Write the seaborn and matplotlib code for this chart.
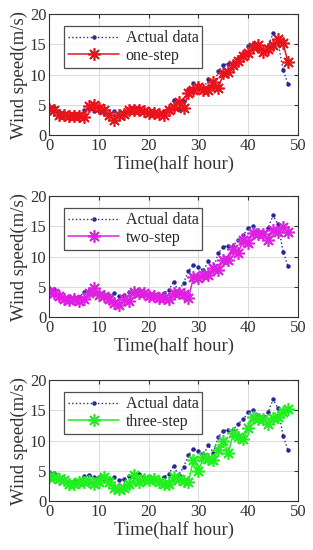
import numpy as np
import pandas as pd
import seaborn as sns
import matplotlib
matplotlib.use("Agg")
import matplotlib.pyplot as plt

# ---- data ----
time_steps = list(range(49))
actual = [4.8, 4.7, 3.8, 3.3, 3.2, 3.3, 3.2, 4.1, 4.3, 3.9,
          4.0, 3.7, 3.4, 3.9, 3.4, 3.6, 4.1, 4.0, 4.4, 4.0,
          3.6, 3.7, 3.5, 4.0, 4.4, 5.8, 4.3, 5.6, 7.6, 8.6,
          8.2, 7.7, 9.2, 8.0, 10.6, 11.6, 11.8, 11.8, 12.8, 13.5,
          14.7, 15.0, 14.2, 13.8, 14.7, 16.8, 15.3, 10.8, 8.4]
one_step = [4.3, 4.1, 3.3, 3.3, 3.2, 3.2, 3.2, 3.0, 4.8, 5.0,
            4.4, 4.1, 3.3, 2.5, 3.3, 3.4, 4.1, 4.2, 4.1, 4.0,
            3.7, 3.6, 3.5, 3.3, 4.1, 4.7, 5.5, 4.4, 6.9, 7.4,
            7.9, 7.5, 7.5, 8.8, 7.7, 10.2, 10.4, 11.6, 12.3, 13.1,
            13.5, 14.6, 14.9, 13.8, 14.2, 14.9, 15.8, 15.2, 12.0]
two_step = [4.1, 4.0, 3.4, 3.0, 2.8, 2.9, 2.7, 2.9, 3.9, 4.8,
            3.7, 3.5, 3.0, 2.3, 2.0, 2.9, 2.6, 4.1, 4.0, 3.9,
            3.5, 3.4, 3.1, 3.1, 3.0, 4.0, 4.0, 3.8, 3.1, 6.6,
            6.5, 7.0, 7.0, 8.1, 7.8, 9.5, 9.5, 11.2, 10.6, 12.8,
            12.3, 13.9, 13.8, 13.8, 12.7, 14.4, 14.0, 14.9, 14.0]
three_step = [4.0, 3.9, 3.7, 3.5, 2.8, 2.8, 3.1, 3.1, 3.3, 2.9,
              3.2, 4.0, 3.2, 2.2, 2.0, 2.2, 2.9, 4.3, 3.2, 3.7,
              3.5, 3.6, 3.1, 2.9, 2.9, 4.0, 3.7, 3.3, 3.2, 6.8,
              5.0, 7.2, 6.9, 6.8, 8.4, 9.9, 7.9, 11.2, 10.6, 10.2,
              12.1, 13.9, 13.6, 13.6, 12.7, 13.7, 13.9, 14.8, 15.2]

pred_names = ["one-step", "two-step", "three-step"]
pred_values = [one_step, two_step, three_step]
pred_colors = ["#e8141c", "#e020e0", "#22ee22"]

x_ticks = [0, 10, 20, 30, 40, 50]
y_ticks = [0, 5, 10, 15, 20]

sns.set_style("white")
plt.rcParams["font.family"] = ["Liberation Serif", "DejaVu Serif"]

fig = plt.figure(figsize=(3.13, 5.5), dpi=100)
panel_bottoms = [0.7545, 0.4236, 0.089]

star = (8, 2, 0)  # matlab-like asterisk

for name, vals, col, bot in zip(pred_names, pred_values, pred_colors, panel_bottoms):
    ax = fig.add_axes([0.157, bot, 0.795, 0.22])
    df = pd.DataFrame({"t": time_steps, "actual": actual, "pred": vals})

    sns.lineplot(data=df, x="t", y="actual", ax=ax, color="#27279a",
                 linestyle=":", linewidth=1.0, marker="o", markersize=3.2,
                 markeredgewidth=0, label="Actual data")
    sns.lineplot(data=df, x="t", y="pred", ax=ax, color=col,
                 linestyle="-", linewidth=1.1, marker=star, markersize=9,
                 markeredgewidth=1.2, markeredgecolor=col, label=name)

    ax.set_xlim(0, 50)
    ax.set_ylim(0, 20)
    ax.set_xticks(x_ticks)
    ax.set_yticks(y_ticks)
    ax.grid(True, color="#dcdcdc", linewidth=0.7)
    ax.tick_params(direction="in", length=3, labelsize=12, pad=2,
                   top=True, right=True, colors="#333333")
    for sp in ax.spines.values():
        sp.set_color("#333333")
        sp.set_linewidth(0.8)
    ax.set_xlabel("Time(half hour)", fontsize=13.5, labelpad=1, color="#333333")
    ax.set_ylabel("Wind speed(m/s)", fontsize=13.5, labelpad=1, color="#333333")

    leg = ax.legend(loc="upper left", bbox_to_anchor=(0.06, 0.9), fontsize=11.5,
                    handlelength=3.2, handletextpad=0.4, borderpad=0.25,
                    labelspacing=0.1, frameon=True, fancybox=False,
                    borderaxespad=0)
    leg.get_frame().set_edgecolor("#222222")
    leg.get_frame().set_linewidth(0.9)

fig.savefig("out.png", dpi=100)
